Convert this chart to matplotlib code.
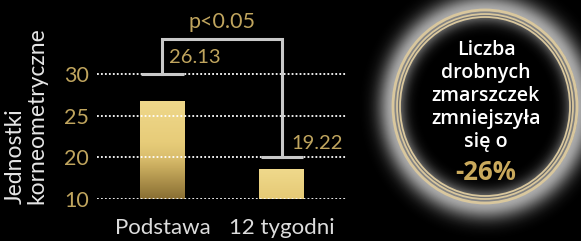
import numpy as np
import matplotlib
matplotlib.use("Agg")
import matplotlib.pyplot as plt
from matplotlib.patches import Ellipse
from matplotlib.colors import LinearSegmentedColormap

# data
categories = ["Podstawa", "12 tygodni"]
bar_heights = [26.8, 17.2]
value_labels = ["26.13", "19.22"]
cap_levels = [30, 20]
bracket_top = 34.2
y_ticks = [10, 20, 25, 30]
p_label = "p<0.05"
y_label_lines = ["Jednostki", "korneometryczne"]
circle_lines = ["Liczba", "drobnych", "zmarszczek", "zmniejszyła", "się o"]
circle_value = "-26%"

GOLD = "#c0a55e"
FONT = "Lato"
W, H = 581, 241


def fwd(v):
    v = np.asarray(v, dtype=float)
    return np.where(v <= 20, (v - 10) / 10.0, 1 + (v - 20) / 5.0)


def inv(u):
    u = np.asarray(u, dtype=float)
    return np.where(u <= 1, 10 + 10 * u, 20 + 5 * (u - 1))


fig = plt.figure(figsize=(W / 100, H / 100), dpi=100, facecolor="black")

# main bar chart
ax = fig.add_axes([97 / W, 42 / H, 250 / W, 191.7 / H])
ax.set_facecolor("none")
ax.set_yscale("function", functions=(fwd, inv))
for s in ax.spines.values():
    s.set_visible(False)

x = np.arange(len(categories))
bw = 0.377
bars = ax.bar(x, [h - 10 for h in bar_heights], bottom=10, width=bw, color="none", zorder=2)

# gold gradients inside the bars
grads = [
    [(0.0, "#8a6f33"), (0.45, "#c9ac5e"), (0.7, "#e7cc79"), (1.0, "#efd88b")],
    [(0.0, "#e5ca76"), (1.0, "#f0d98c")],
]
for b, g in zip(bars, grads):
    cmap = LinearSegmentedColormap.from_list("g", g)
    grad = np.linspace(0, 1, 256).reshape(-1, 1)
    x0, x1 = b.get_x(), b.get_x() + b.get_width()
    y0, y1 = b.get_y(), b.get_y() + b.get_height()
    im = ax.imshow(grad, cmap=cmap, origin="lower", aspect="auto",
                   extent=(x0, x1, y0, y1), zorder=2)
    im.set_clip_path(b)
ax.set_xlim(-0.548, 1.544)
ax.set_ylim(10, 38)

# dotted grid over the bars
for t in y_ticks:
    ax.axhline(t, color="white", lw=1.3, ls=(0, (1, 1.2)), zorder=3)

ax.set_yticks(y_ticks)
ax.set_yticklabels([str(t) for t in y_ticks], fontsize=15.5, color=GOLD, family=FONT)
ax.set_xticks(x)
ax.set_xticklabels(categories, fontsize=16, color="#dddddd", family=FONT)
ax.tick_params(axis="y", length=0, pad=6)
ax.tick_params(axis="x", length=0, pad=14)
ax.minorticks_off()

# significance bracket
lc = "#c9c9c9"
for xi, lev in zip(x, cap_levels):
    ax.plot([xi - bw / 2 * 0.95, xi + bw / 2 * 0.95], [lev, lev], color=lc,
            lw=2.2, solid_capstyle="butt", clip_on=False, zorder=4)
ax.plot([x[0], x[0], x[1], x[1]], [cap_levels[0], bracket_top, bracket_top, cap_levels[1]],
        color=lc, lw=2.2, clip_on=False, zorder=4, solid_joinstyle="miter")
ax.text(0.5, 36.2, p_label, ha="center", va="center", fontsize=15.5, color=GOLD,
        family=FONT, clip_on=False)
ax.text(x[0] + 0.054, 32.0, value_labels[0], ha="left", va="center", fontsize=14.5,
        color=GOLD, family=FONT)
ax.text(x[1] + 0.075, 21.7, value_labels[1], ha="left", va="center", fontsize=14.5,
        color=GOLD, family=FONT)

# y label, two lines, bottom aligned
for xp, txt in zip([15, 37], y_label_lines):
    fig.text(xp / W, 1 - 204 / H, txt, rotation=90, rotation_mode="anchor",
             ha="left", va="center", fontsize=16.5, color="#e6e6e6", family=FONT)

# overlay for the circle badge
ov = fig.add_axes([0, 0, 1, 1])
ov.axis("off")

cx, cy, rx, ry = 485, 106.5, 92, 96.5
gx, gy = np.meshgrid(np.arange(360, W + 1), np.arange(0, H + 1))
rr = np.sqrt(((gx - cx) / rx) ** 2 + ((gy - cy) / ry) ** 2)
d = (rr - 1) * 94
glow = np.where(d > 0, 0.75 * np.exp(-(d / 16) ** 2), 0.6 * np.exp(-(d / 12) ** 2))
rgba = np.zeros(glow.shape + (4,))
rgba[..., :3] = 0.9
rgba[..., 3] = glow
ov.imshow(rgba, extent=(359.5, W + 0.5, H + 0.5, -0.5), aspect="auto", zorder=1)
ov.set_xlim(0, W)
ov.set_ylim(H, 0)

ring = "#d9c79d"
for k, lw in zip([0, 4, 7], [2.0, 1.3, 1.3]):
    ov.add_patch(Ellipse((cx, cy), 2 * (rx - k), 2 * (ry - k), fill=False,
                         ec=ring, lw=lw, zorder=2))

for i, line in enumerate(circle_lines):
    ov.text(cx + 1, 50 + i * 23, line, ha="center", va="center", fontsize=14,
            color="white", family="Open Sans", fontweight="semibold", zorder=3)
ov.text(cx + 1, 173, circle_value, ha="center", va="center", fontsize=18.5,
        color="#c9a95c", family="Open Sans", fontweight="bold", zorder=3)

fig.savefig("out.png", dpi=100, facecolor="black")
